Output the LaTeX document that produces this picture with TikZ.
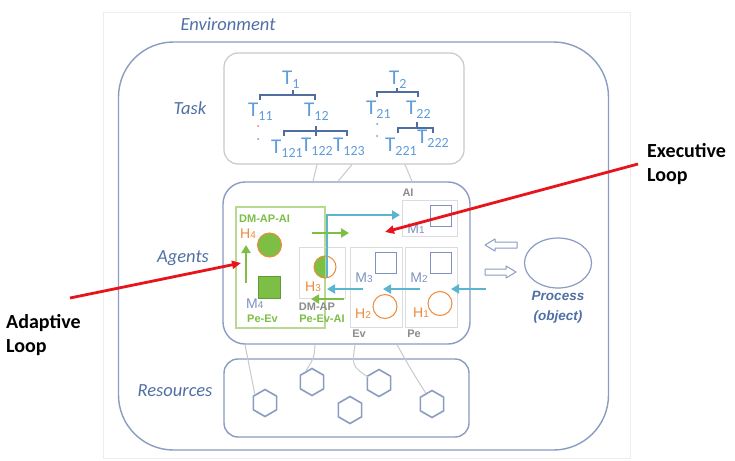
\documentclass[tikz,border=0pt]{standalone}
\usepackage{fontspec}
\setmainfont{Carlito}
\newfontfamily\arialf{Liberation Sans}
\usetikzlibrary{arrows.meta,shapes.geometric,calc}
\definecolor{frame}{HTML}{8A9CC2}
\definecolor{lab}{HTML}{5070A5}
\definecolor{tblue}{HTML}{5E9CDA}
\definecolor{brk}{HTML}{4F6E9E}
\definecolor{lgray}{HTML}{C9C9C9}
\definecolor{bgray}{HTML}{DCDCDC}
\definecolor{grn}{HTML}{7DBF45}
\definecolor{lgrn}{HTML}{B8DA90}
\definecolor{org}{HTML}{EE8A3C}
\definecolor{cyn}{HTML}{5BB5CE}
\definecolor{mlab}{HTML}{7E93C2}
\definecolor{glab}{HTML}{8C8C8C}
\definecolor{rd}{HTML}{E8141C}
\newcommand\tlab[1]{T\raisebox{-4pt}{\fontsize{14}{14}\selectfont #1}}
\newcommand\hnum[2]{#1{\fontsize{10}{10}\selectfont #2}}
\tikzset{
  secbox/.style={draw=frame,line width=1.4pt,inner sep=0pt},
  seclabel/.style={font=\fontsize{18.5}{18.5}\selectfont\itshape,text=lab},
  tnode/.style={anchor=base west,inner sep=0pt,text=tblue,font=\fontsize{21}{21}\selectfont},
  brack/.style={draw=brk,line width=1.2pt},
  smallbox/.style={draw=bgray,line width=0.9pt,inner sep=0pt},
  msq/.style={draw=mlab,line width=1pt,minimum size=21pt,inner sep=0pt},
  hcirc/.style={circle,draw=org,line width=1pt,minimum size=24pt,inner sep=0pt},
  mtext/.style={text=mlab,font=\arialf\fontsize{14}{14}\selectfont,inner sep=0pt},
  htext/.style={text=org,font=\arialf\fontsize{14}{14}\selectfont,inner sep=0pt},
  gtext/.style={text=glab,font=\arialf\bfseries\fontsize{11}{11}\selectfont,inner sep=0pt},
  grtext/.style={text=grn,font=\arialf\bfseries\fontsize{11}{11}\selectfont,inner sep=0pt},
  carr/.style={draw=cyn,line width=2.8pt,-{Triangle[length=8pt,width=9pt]}},
  garr/.style={draw=grn,line width=2.8pt,-{Triangle[length=8pt,width=9pt]}},
  rarr/.style={draw=rd,line width=2.8pt,-{Triangle[length=9pt,width=8pt]}},
  hexa/.style={regular polygon,regular polygon sides=6,rotate=30,draw=frame,line width=1.6pt,minimum size=27pt,inner sep=0pt},
  link/.style={draw=lgray,line width=1pt},
  loopt/.style={font=\bfseries\fontsize{20}{24}\selectfont,text=black,inner sep=0pt,anchor=west},
}
\begin{document}
\begin{tikzpicture}[x=1pt,y=-1pt]
\useasboundingbox (0,0) rectangle (735,460);
\fill[white] (0,0) rectangle (735,460);
\draw[black!7,line width=0.6pt] (103,12) rectangle (630,458);

% environment
\node[secbox,rounded corners=55pt,minimum width=490pt,minimum height=408pt] (env) at (363.5,246) {};
\node[seclabel] (envl) at (228,24) {Environment};

% task box
\node[draw=lgray,line width=1.2pt,rounded corners=14pt,minimum width=240pt,minimum height=111pt,inner sep=0pt] (task) at (344,108.5) {};
\node[seclabel] (taskl) at (190,108) {Task};
\node[tnode] (t1) at (282,84) {\tlab{1}};
\node[tnode] (t11) at (248,116) {\tlab{11}};
\node[tnode] (t12) at (304,116) {\tlab{12}};
\node[tnode] (t121) at (271,153) {\tlab{121}};
\node[tnode] (t122) at (301,151) {\tlab{122}};
\node[tnode] (t123) at (333,151) {\tlab{123}};
\node[tnode] (t2) at (389,84) {\tlab{2}};
\node[tnode] (t21) at (366,114) {\tlab{21}};
\node[tnode] (t22) at (406,114) {\tlab{22}};
\node[tnode] (t221) at (385,151) {\tlab{221}};
\node[tnode] (t222) at (417,143) {\tlab{222}};
\draw[brack] (260,100) -- (260,95) -- (315,95) -- (315,100) (293,95) -- (293,90);
\draw[brack] (284,136) -- (284,131) -- (347,131) -- (347,136) (316,126) -- (316,136);
\draw[brack] (377,97) -- (377,92) -- (418,92) -- (418,97) (397,92) -- (397,88);
\draw[brack] (398,133) -- (398,128) -- (433,128) -- (433,133) (417,128) -- (417,122);
\fill[rd!60] (258,126) circle (1pt);
\fill[mlab] (258,139) circle (1pt);
\fill[mlab] (377,124) circle (1pt);
\fill[mlab] (377,136) circle (1pt);

% agents box
\node[secbox,rounded corners=22pt,minimum width=247pt,minimum height=162pt] (ag) at (346.5,263) {};
\node[seclabel] (agl) at (183,258) {Agents};
\draw[link] ($(task.south)+(-27,0)$) -- ($(ag.north)+(-33.5,0)$);
\draw[link] ($(task.south)+(8,0)$) -- ($(ag.north)+(-8.5,0)$);
\draw[link] ($(task.south)+(61,0)$) -- ($(ag.north)+(65.5,0)$);

% green adaptive box
\node[draw=lgrn,line width=1.2pt,minimum width=89pt,minimum height=121pt,inner sep=0pt] (gbox) at (280.5,267.5) {};
\node[grtext,anchor=west] (dmapai) at (239,219) {DM-AP-AI};
\node[htext,anchor=west] (h4) at (240,234) {\hnum{H}{4}};
\node[circle,fill=grn,draw=org,line width=1pt,minimum size=24pt,inner sep=0pt] (c4) at (269.5,245) {};
\node[fill=grn,draw=grn!80!black,line width=0.6pt,minimum size=22pt,inner sep=0pt] (m4sq) at (269.5,287.5) {};
\node[mtext,anchor=west] (m4) at (246,304) {\hnum{M}{4}};
\node[grtext,anchor=west] (peev) at (247,319) {Pe-Ev};
\coordinate (ga0) at (246,283);
\coordinate (ga1) at (246,245);
\draw[garr] (ga0) -- (ga1);

% H3 box
\node[smallbox,minimum width=46pt,minimum height=51pt] (h3box) at (322,272.5) {};
\begin{scope}
\clip (300,250) rectangle (325,285);
\fill[grn] (325,267) circle (11pt);
\end{scope}
\draw[org,line width=1pt] (325,267) circle (11pt);
\node[htext] (h3) at (313,287) {\hnum{H}{3}};
\node[gtext] (dmap) at (317,307) {DM-AP};
\node[grtext] (peevai) at (322,319) {Pe-Ev-AI};

% Ev / Pe / AI boxes
\node[smallbox,minimum width=52pt,minimum height=80pt] (evbox) at (376,287) {};
\node[smallbox,minimum width=52pt,minimum height=80pt] (pebox) at (431,287) {};
\node[smallbox,minimum width=55pt,minimum height=36pt] (aibox) at (429.5,218) {};
\node[gtext] (ev) at (359,334) {Ev};
\node[gtext] (pe) at (414,334) {Pe};
\node[gtext] (ai) at (408,193) {AI};
\node[msq] (m1sq) at (441,216) {};
\node[msq] (m3sq) at (386,262.5) {};
\node[msq] (m2sq) at (441,262.5) {};
\node[mtext] (m1) at (416,229) {\hnum{M}{1}};
\node[mtext] (m3) at (364,278) {\hnum{M}{3}};
\node[mtext] (m2) at (419,278) {\hnum{M}{2}};
\node[hcirc] (h2c) at (385,306.5) {};
\node[hcirc] (h1c) at (440,303.5) {};
\node[htext] (h2) at (363,314) {\hnum{H}{2}};
\node[htext] (h1) at (421,313) {\hnum{H}{1}};

% executive arrows
\coordinate (ca0) at (486,289);
\coordinate (ca1) at (451,289);
\coordinate (ca2) at (420,289);
\coordinate (ca3) at (383,289);
\coordinate (ca4) at (363,289);
\coordinate (ca5) at (327,289);
\draw[carr] (ca0) -- (ca1);
\draw[carr] (ca2) -- (ca3);
\draw[carr] (ca4) -- (ca5);
\coordinate (cu0) at (327,277);
\coordinate (cu1) at (400,215);
\draw[carr] (cu0) |- (cu1);
\coordinate (gr0) at (312,233);
\coordinate (gr1) at (349,233);
\draw[garr] (gr0) -- (gr1);
\coordinate (gl0) at (344,299);
\coordinate (gl1) at (311,299);
\draw[garr] (gl0) -- (gl1);

% process
\node[ellipse,draw=frame,line width=1.2pt,minimum width=67pt,minimum height=50pt,inner sep=0pt] (proc) at (558,263) {};
\node[text=lab,font=\arialf\bfseries\itshape\fontsize{13.5}{20}\selectfont,align=center,inner sep=0pt] (procl) at (558,307) {Process\\(object)};
\draw[frame,line width=1pt,line join=round] (485,245) -- (495,239) -- (495,242) -- (517,242) -- (517,248) -- (495,248) -- (495,251) -- cycle;
\draw[frame,line width=1pt,line join=round] (516,272) -- (506,266) -- (506,269) -- (485,269) -- (485,275) -- (506,275) -- (506,278) -- cycle;

% resources
\node[secbox,rounded corners=14pt,minimum width=245pt,minimum height=78pt] (res) at (346.5,398) {};
\node[seclabel] (resl) at (175,391) {Resources};
\node[hexa] (x1) at (265,403) {};
\node[hexa] (x2) at (312,382) {};
\node[hexa] (x3) at (350,410) {};
\node[hexa] (x4) at (379,383) {};
\node[hexa] (x5) at (432,404) {};
\draw[link] ($(ag.south)+(-101.5,0)$) -- ($(x1.center)+(-10,-8)$);
\draw[link] ($(ag.south)+(-31.5,0)$) .. controls (314,358) .. (x2.north);
\draw[link] ($(ag.south)+(8.5,0)$) .. controls (352,366) .. ($(x4.center)+(-11,-6)$);
\draw[link] ($(ag.south)+(50.5,0)$) .. controls (410,368) .. (x5.north);

% loop labels
\node[loopt] (exec) at (647,165) {\begin{tabular}{@{}l@{}}Executive\\Loop\end{tabular}};
\node[loopt] (adapt) at (6,336) {\begin{tabular}{@{}l@{}}Adaptive\\Loop\end{tabular}};
\coordinate (ex0) at (638,164);
\coordinate (ex1) at (385,232);
\coordinate (ad0) at (70,298);
\coordinate (ad1) at (241,263);
\draw[rarr] (ex0) -- (ex1);
\draw[rarr] (ad0) -- (ad1);
\end{tikzpicture}
\end{document}
